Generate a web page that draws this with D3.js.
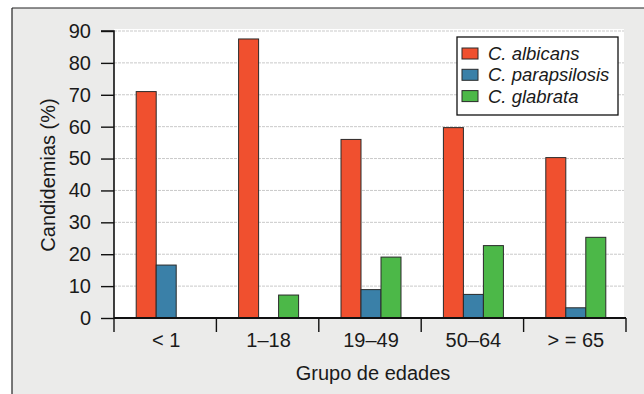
<!DOCTYPE html>
<html>
<head>
<meta charset="utf-8">
<script src="https://cdn.jsdelivr.net/npm/d3@7"></script>
<style>
  html, body { margin: 0; padding: 0; background: #fff; }
  svg { display: block; }
  text { font-family: "Liberation Sans", Arial, Helvetica, sans-serif; fill: #1a1a1a; }
</style>
</head>
<body>
<svg id="chart" width="644" height="394"></svg>
<script>
// Age groups and candidemia percentage per species
const ageGroups = ["< 1", "1\u201318", "19\u201349", "50\u201364", "> = 65"];
const species = ["C. albicans", "C. parapsilosis", "C. glabrata"];
const albicans = [71, 87.5, 56, 59.7, 50.3];
const parapsilosis = [16.6, 0, 8.9, 7.4, 3.2];
const glabrata = [0, 7.2, 19.1, 22.7, 25.3];
const yTicks = [0, 10, 20, 30, 40, 50, 60, 70, 80, 90];

const seriesValues = [albicans, parapsilosis, glabrata];
const colors = ["#f0502f", "#3a80a8", "#4cb848"];

const svg = d3.select("#chart");
const W = 644, H = 394;
const mLeft = 114, mRight = 626, mTop = 31, mBottom = 318;
const axisFont = 20;

// Page background and frame lines
svg.append("rect").attr("x", 0).attr("y", 0).attr("width", W).attr("height", H).attr("fill", "#fff");
svg.append("rect").attr("x", 12).attr("y", 8).attr("width", W - 12).attr("height", H - 8).attr("fill", "#ebebea");
svg.append("line").attr("x1", 12).attr("x2", W).attr("y1", 8).attr("y2", 8).attr("stroke", "#222").attr("stroke-width", 1.2);
svg.append("line").attr("x1", 12).attr("x2", 12).attr("y1", 8).attr("y2", H).attr("stroke", "#222").attr("stroke-width", 1.2);

// White plotting area
svg.append("rect").attr("x", mLeft).attr("y", mTop - 2).attr("width", mRight - mLeft - 2).attr("height", mBottom - mTop + 2).attr("fill", "#fff");

const x = d3.scaleBand().domain(ageGroups).range([mLeft, mRight]).paddingInner(0).paddingOuter(0);
const y = d3.scaleLinear().domain([0, 90]).range([mBottom, mTop]);
const barW = 20;
const xs = d3.scaleBand().domain(species).range([0, barW * 3]);

// Gridlines
svg.append("g").selectAll("line").data(yTicks.filter(d => d > 0)).join("line")
  .attr("x1", mLeft).attr("x2", mRight - 2)
  .attr("y1", d => y(d)).attr("y2", d => y(d))
  .attr("stroke", "#c9c9c9").attr("stroke-width", 1).attr("stroke-dasharray", "3,1");

// Bars
const groups = svg.append("g").selectAll("g").data(ageGroups).join("g")
  .attr("transform", d => `translate(${x(d) + (x.bandwidth() - barW * 3) / 2 + 1},0)`);
groups.selectAll("rect").data((g, i) => species.map((s, k) => ({ s, k, v: seriesValues[k][i] })).filter(d => d.v > 0))
  .join("rect")
  .attr("x", d => xs(d.s))
  .attr("width", barW)
  .attr("y", d => y(d.v))
  .attr("height", d => y(0) - y(d.v))
  .attr("fill", d => colors[d.k])
  .attr("stroke", "#2a2a2a").attr("stroke-width", 1);

// Y axis
const yAxis = d3.axisLeft(y).tickValues(yTicks).tickSize(13).tickPadding(10);
const gy = svg.append("g").attr("transform", `translate(${mLeft},0)`).call(yAxis);
gy.select(".domain").attr("stroke", "#111").attr("stroke-width", 1.6).attr("d", `M-13,${mTop}H0V${mBottom}`);
gy.selectAll(".tick line").attr("stroke", "#111").attr("stroke-width", 1.4);
gy.selectAll(".tick text").attr("font-size", axisFont).attr("fill", "#1a1a1a")
  .attr("font-family", "Liberation Sans, Arial, sans-serif");

// X axis with ticks at band boundaries
svg.append("line").attr("x1", mLeft).attr("x2", mRight).attr("y1", mBottom).attr("y2", mBottom)
  .attr("stroke", "#111").attr("stroke-width", 1.8);
const boundaries = ageGroups.map(d => x(d)).concat([mRight]);
svg.append("g").selectAll("line").data(boundaries).join("line")
  .attr("x1", d => d).attr("x2", d => d).attr("y1", mBottom).attr("y2", mBottom + 14)
  .attr("stroke", "#111").attr("stroke-width", 1.4);
svg.append("g").selectAll("text").data(ageGroups).join("text")
  .attr("x", d => x(d) + x.bandwidth() / 2 + 1)
  .attr("y", mBottom + 29)
  .attr("text-anchor", "middle")
  .attr("font-size", axisFont)
  .text(d => d);

// Axis titles
svg.append("text").attr("x", 373).attr("y", 380).attr("text-anchor", "middle")
  .attr("font-size", axisFont).text("Grupo de edades");
svg.append("text").attr("transform", "translate(55,175) rotate(-90)").attr("text-anchor", "middle")
  .attr("font-size", axisFont).text("Candidemias (%)");

// Legend
const lg = svg.append("g");
lg.append("rect").attr("x", 457).attr("y", 37).attr("width", 161).attr("height", 78)
  .attr("fill", "#fff").attr("stroke", "#111").attr("stroke-width", 1.3);
const items = lg.selectAll("g").data(species).join("g")
  .attr("transform", (d, i) => `translate(462,${48 + i * 21.3})`);
items.append("rect").attr("width", 16).attr("height", 11)
  .attr("fill", (d, i) => colors[i]).attr("stroke", "#2a2a2a").attr("stroke-width", 1);
items.append("text").attr("x", 26).attr("y", 12).attr("font-size", 18.5)
  .attr("font-style", "italic").text(d => d);
</script>
</body>
</html>
